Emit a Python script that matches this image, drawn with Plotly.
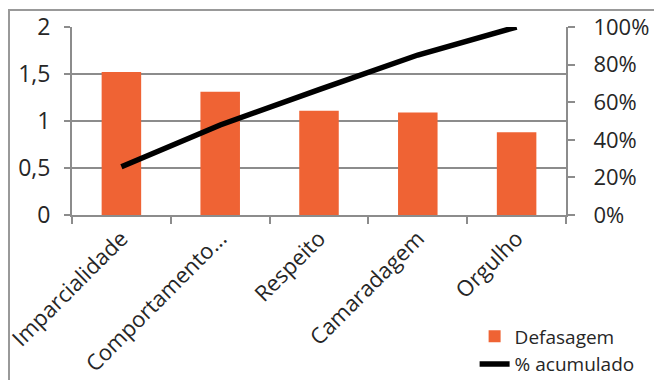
import plotly.graph_objects as go

# Pareto data: gap per dimension and cumulative share
categories = ["Imparcialidade", "Comportamento...", "Respeito", "Camaradagem", "Orgulho"]
defasagem = [1.52, 1.31, 1.11, 1.09, 0.88]
acumulado = [0.257, 0.479, 0.667, 0.851, 1.0]

FONT = "Open Sans"
TXT = "#262626"
AX = "#8c8c8c"
ORANGE = "#EF6334"

fig = go.Figure()
fig.add_trace(go.Bar(
    x=categories, y=defasagem, name="Defasagem",
    marker=dict(color=ORANGE, line=dict(width=0)), width=0.4,
))
fig.add_trace(go.Scatter(
    x=categories, y=acumulado, name="% acumulado", yaxis="y2",
    mode="lines", line=dict(color="black", width=5.5),
))

fig.update_layout(
    width=654, height=380,
    margin=dict(l=72, r=88, t=27, b=165, autoexpand=False),
    paper_bgcolor="white", plot_bgcolor="white",
    separators=", ",
    font=dict(family=FONT, size=21, color=TXT),
    showlegend=True,
    legend=dict(
        x=0.815, xanchor="left", y=-0.545, yanchor="top",
        bgcolor="rgba(0,0,0,0)", font=dict(family=FONT, size=19, color=TXT),
        tracegroupgap=0,
    ),
    xaxis=dict(
        type="category", showline=True, linecolor=AX, linewidth=2,
        ticks="outside", tickson="boundaries", ticklen=7, tickcolor=AX, tickwidth=2,
        tickangle=-45, tickfont=dict(family=FONT, size=22, color=TXT),
        showgrid=False,
    ),
    yaxis=dict(
        range=[0, 2], dtick=0.5, showline=True, linecolor=AX, linewidth=2,
        ticks="outside", ticklen=6, tickcolor=AX, tickwidth=2,
        showgrid=True, gridcolor=AX, gridwidth=2, zeroline=False,
        tickfont=dict(family=FONT, size=23, color=TXT), ticklabelstandoff=9,
    ),
    yaxis2=dict(
        range=[0, 1], dtick=0.2, tickformat=".0%", overlaying="y", side="right",
        showline=True, linecolor=AX, linewidth=2,
        ticks="outside", ticklen=7, tickcolor=AX, tickwidth=2,
        showgrid=False, zeroline=False,
        tickfont=dict(family=FONT, size=22, color=TXT), ticklabelstandoff=14,
    ),
    shapes=[dict(
        type="rect", xref="paper", yref="paper",
        x0=(9 - 72) / 494, x1=1.3, y0=-1.2, y1=(215 - 10) / 188,
        line=dict(color="#999999", width=2), fillcolor="rgba(0,0,0,0)", layer="below",
    )],
)

fig.write_html("out.html")
